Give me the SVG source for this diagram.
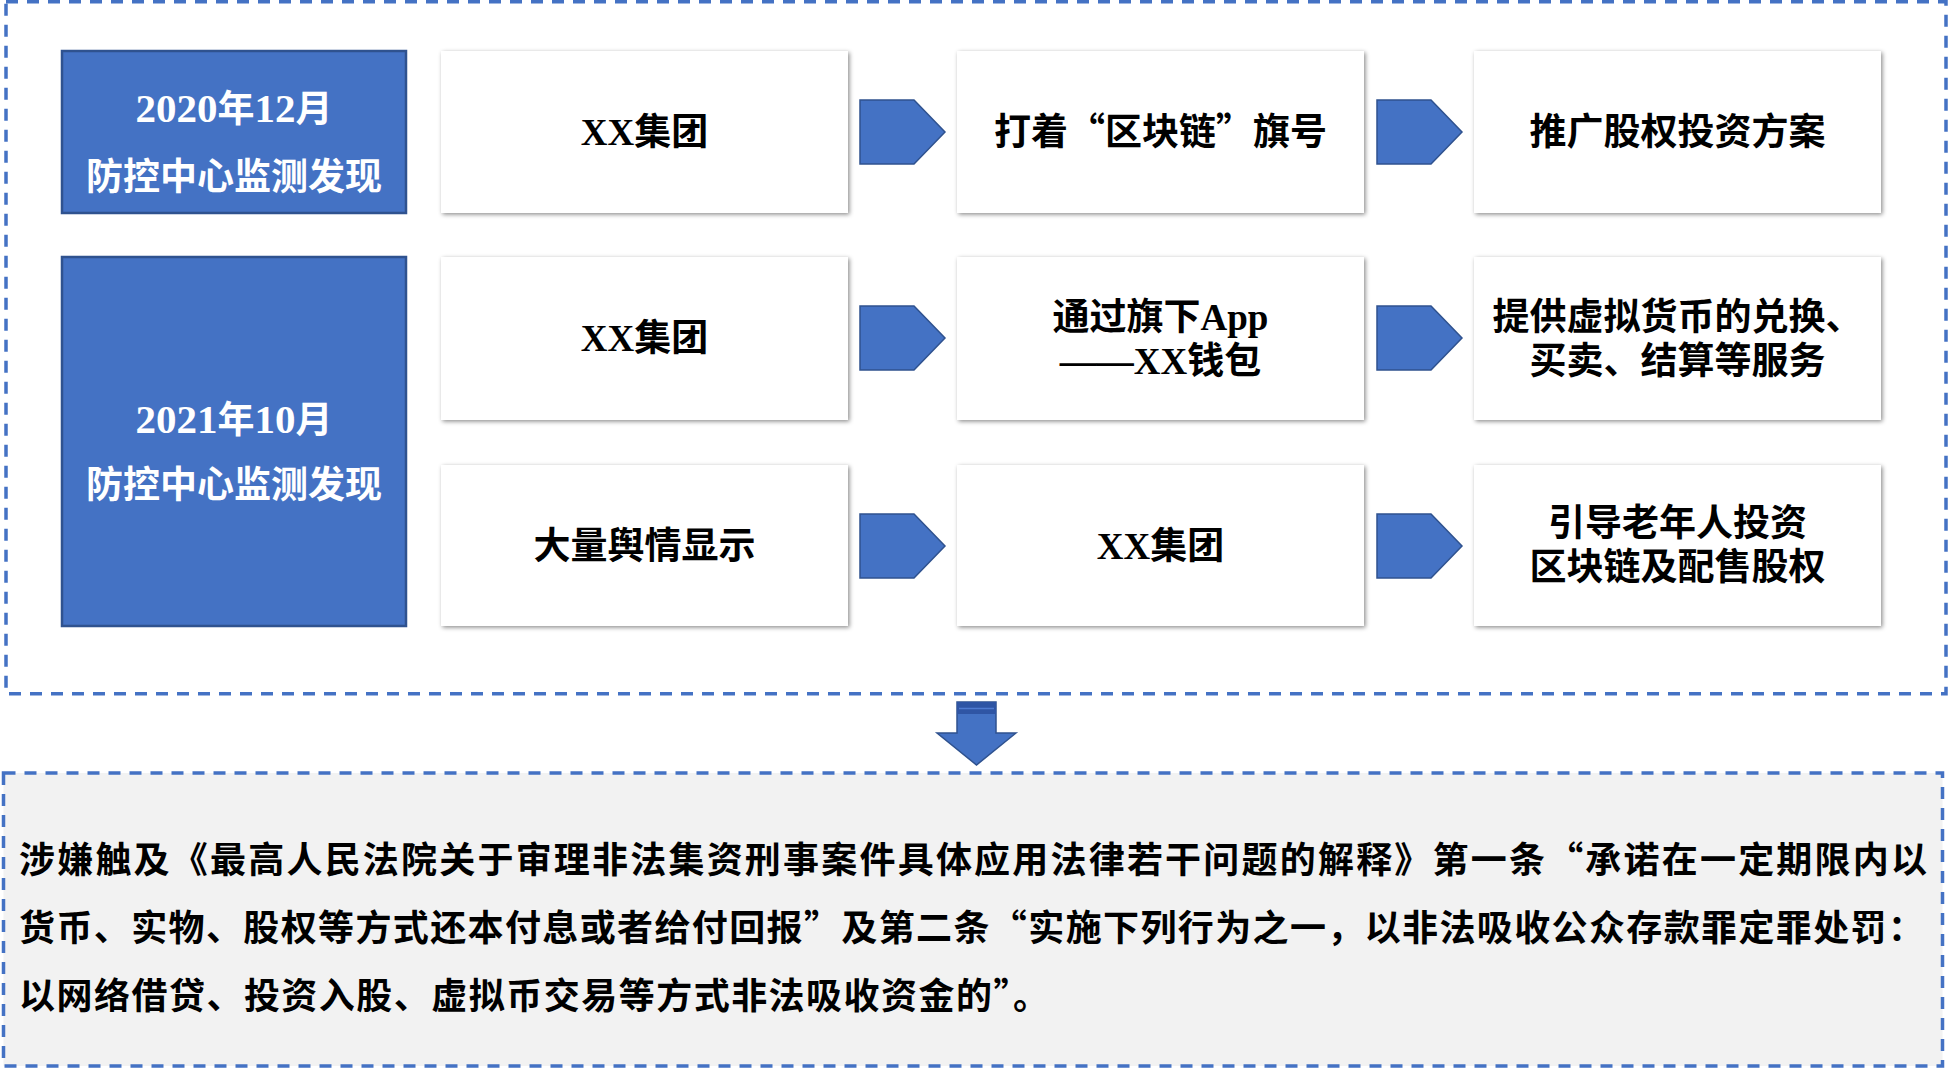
<svg xmlns="http://www.w3.org/2000/svg" width="1949" height="1069" viewBox="0 0 1949 1069">
<style>
.dash{fill:none;stroke:#4472C4;stroke-width:3.5;stroke-dasharray:12 9}
.blue{fill:#4472C4;stroke:#2F528F;stroke-width:2.5}
.card{fill:#FFFFFF;filter:url(#sh)}
.arr{fill:#4472C4;stroke:#2F528F;stroke-width:1.5}
.t{font-family:"Liberation Serif","Noto Sans CJK SC",serif;font-weight:700;font-size:37px;fill:#000;text-anchor:middle}
.w{fill:#FFFFFF}
.p{font-family:"Liberation Serif","Noto Sans CJK SC",serif;font-weight:700;font-size:36px;fill:#000}
.q{font-family:"Noto Sans CJK SC",sans-serif}
.n{font-size:41px}
</style>
<defs>
<filter id="sh" x="-5%" y="-5%" width="110%" height="115%">
<feDropShadow dx="1.5" dy="1.5" stdDeviation="2" flood-color="#000" flood-opacity="0.45"/>
</filter>
</defs>
<rect x="0" y="0" width="1949" height="1069" fill="#FFFFFF"/>

<g id="top-frame">
<rect class="dash" x="6" y="1.8" width="1940" height="692"/>
</g>

<g id="date-2020">
<rect class="blue" x="62" y="51" width="344" height="162"/>
<text class="t w" x="234" y="122"><tspan class="n">2020</tspan>年<tspan class="n">12</tspan>月</text>
<text class="t w" x="234" y="190">防控中心监测发现</text>
</g>
<g id="date-2021">
<rect class="blue" x="62" y="257" width="344" height="369"/>
<text class="t w" x="234" y="433"><tspan class="n">2021</tspan>年<tspan class="n">10</tspan>月</text>
<text class="t w" x="234" y="498">防控中心监测发现</text>
</g>

<g id="r1c1"><rect class="card" x="441" y="51" width="407" height="162"/><text class="t" x="644.5" y="145">XX集团</text></g>
<g id="r1c2"><rect class="card" x="957" y="51" width="407" height="162"/><text class="t" x="1160.5" y="145">打着<tspan class="q">“</tspan>区块链<tspan class="q">”</tspan>旗号</text></g>
<g id="r1c3"><rect class="card" x="1474" y="51" width="407" height="162"/><text class="t" x="1677.5" y="145">推广股权投资方案</text></g>

<g id="r2c1"><rect class="card" x="441" y="257" width="407" height="163"/><text class="t" x="644.5" y="351">XX集团</text></g>
<g id="r2c2"><rect class="card" x="957" y="257" width="407" height="163"/><text class="t" x="1160.5" y="330">通过旗下App</text><text class="t" x="1160.5" y="374">——XX钱包</text></g>
<g id="r2c3"><rect class="card" x="1474" y="257" width="407" height="163"/><text class="t" x="1677.5" y="330">提供虚拟货币的兑换、</text><text class="t" x="1677.5" y="374">买卖、结算等服务</text></g>

<g id="r3c1"><rect class="card" x="441" y="465" width="407" height="161"/><text class="t" x="644.5" y="559">大量舆情显示</text></g>
<g id="r3c2"><rect class="card" x="957" y="465" width="407" height="161"/><text class="t" x="1160.5" y="559">XX集团</text></g>
<g id="r3c3"><rect class="card" x="1474" y="465" width="407" height="161"/><text class="t" x="1677.5" y="536">引导老年人投资</text><text class="t" x="1677.5" y="580">区块链及配售股权</text></g>

<g id="connectors">
<polygon class="arr" points="860,100 914,100 945,132 914,164 860,164"/>
<polygon class="arr" points="1377,100 1431,100 1462,132 1431,164 1377,164"/>
<polygon class="arr" points="860,306 914,306 945,338 914,370 860,370"/>
<polygon class="arr" points="1377,306 1431,306 1462,338 1431,370 1377,370"/>
<polygon class="arr" points="860,514 914,514 945,546 914,578 860,578"/>
<polygon class="arr" points="1377,514 1431,514 1462,546 1431,578 1377,578"/>
<g id="down-arrow">
<polygon class="arr" points="957,702 996,702 996,733 1016,733 976.5,765 937,733 957,733"/>
<rect x="957" y="702" width="39" height="12" fill="#2F55A4"/>
<line x1="959" y1="708.5" x2="994" y2="708.5" stroke="#4F7BD0" stroke-width="1.5"/>
</g>
</g>

<g id="conclusion">
<rect x="3.5" y="773" width="1939" height="293" fill="#F2F2F2"/>
<rect class="dash" x="3.5" y="773" width="1939" height="293"/>
<text class="p" x="19" y="873" textLength="1908" lengthAdjust="spacing">涉嫌触及《最高人民法院关于审理非法集资刑事案件具体应用法律若干问题的解释》第一条<tspan class="q">“</tspan>承诺在一定期限内以</text>
<text class="p" x="19" y="941" textLength="1905" lengthAdjust="spacing">货币、实物、股权等方式还本付息或者给付回报<tspan class="q">”</tspan>及第二条<tspan class="q">“</tspan>实施下列行为之一，以非法吸收公众存款罪定罪处罚：</text>
<text class="p" x="19" y="1009" textLength="1030" lengthAdjust="spacing">以网络借贷、投资入股、虚拟币交易等方式非法吸收资金的<tspan class="q">”</tspan>。</text>
</g>
</svg>
